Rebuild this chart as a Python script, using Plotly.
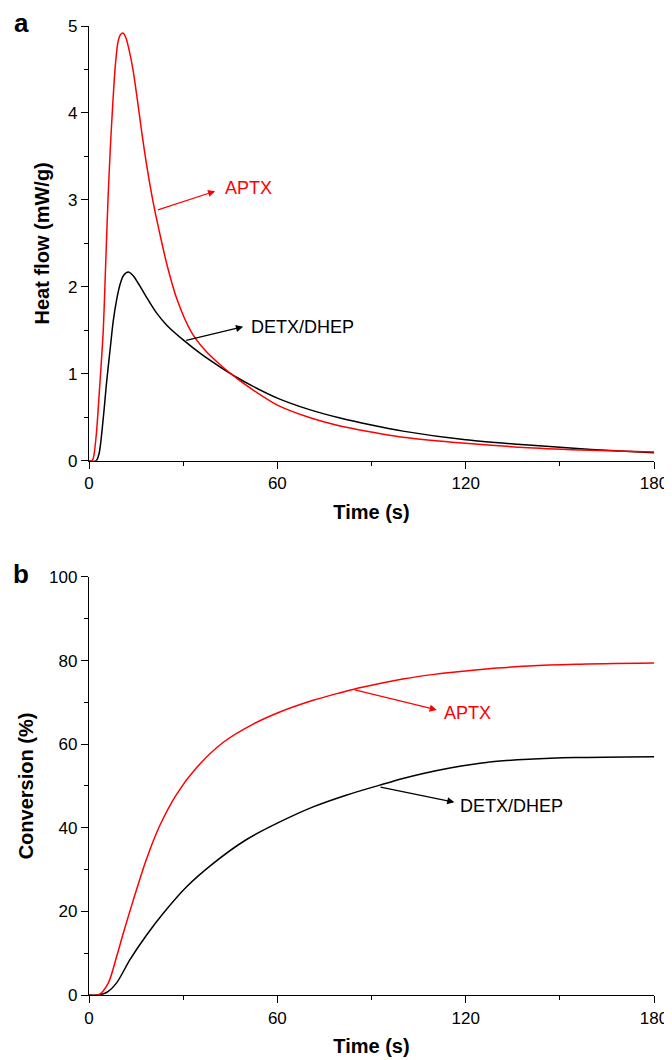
import plotly.graph_objects as go

# Heat flow (a) - time in s, heat flow in mW/g
t_hf_aptx = [0, 1.0, 1.5, 2.35, 3.4, 4.5, 5.3, 6.05, 6.8, 7.65, 8.4, 9.2, 10.0, 10.8, 11.8, 12.8,
             14.0, 15.3, 16.8, 18.5, 20.4, 22.5, 24.8, 28, 32.6, 37, 41.6, 47, 52, 60, 70, 80,
             90, 100, 120, 140, 160, 180]
hf_aptx = [0, 0, 0.05, 0.31, 0.85, 1.47, 2.25, 3.0, 3.6, 4.15, 4.55, 4.81, 4.9, 4.92, 4.86, 4.72,
           4.50, 4.18, 3.78, 3.37, 2.98, 2.62, 2.26, 1.86, 1.48, 1.27, 1.11, 0.95, 0.82, 0.64, 0.50, 0.40,
           0.33, 0.27, 0.20, 0.15, 0.12, 0.10]

t_hf_detx = [0, 2.3, 3.2, 4.6, 5.6, 6.7, 7.7, 8.8, 10.0, 11.0, 12.5, 14.0, 16.2, 18.5, 21.5, 25,
             30, 36, 41.7, 47, 52, 60, 70, 80, 90, 100, 120, 140, 160, 180]
hf_detx = [0, 0, 0.08, 0.51, 0.9, 1.27, 1.6, 1.85, 2.04, 2.13, 2.17, 2.13, 2.01, 1.87, 1.70, 1.55,
           1.39, 1.22, 1.08, 0.96, 0.86, 0.72, 0.59, 0.49, 0.41, 0.34, 0.24, 0.18, 0.13, 0.09]

# Conversion (b) - %
t_cv_aptx = [0, 3, 6.1, 8.8, 10.9, 14.1, 18.3, 22.6, 27.9, 34.3, 42.7, 52.3, 60.8, 71.4, 80,
             84.1, 92.6, 100, 110, 120, 130, 140, 155, 180]
cv_aptx = [0, 0, 2.8, 9.2, 14.7, 22.7, 32.5, 40.6, 48.0, 54.4, 60.4, 64.8, 67.7, 70.5, 72.3,
           73.1, 74.5, 75.6, 76.7, 77.5, 78.2, 78.7, 79.1, 79.4]

t_cv_detx = [0, 2.5, 5.6, 8.8, 13, 18.3, 23.6, 31.1, 39.6, 50.2, 60.8, 71.4, 81.9, 92.6, 100,
             106.5, 115, 122.4, 130, 140, 155, 180]
cv_detx = [0, 0, 0.6, 2.9, 8.4, 14.3, 19.5, 25.9, 31.5, 37.2, 41.4, 45.0, 47.8, 50.2, 51.8,
           53.0, 54.3, 55.2, 55.9, 56.4, 56.8, 57.0]

RED = "#ff0000"
FONT = "Liberation Sans, Arial, sans-serif"

fig = go.Figure()
fig.add_trace(go.Scatter(x=t_hf_detx, y=hf_detx, mode="lines", line=dict(color="black", width=1.5, shape="spline", smoothing=0.8),
                         xaxis="x", yaxis="y"))
fig.add_trace(go.Scatter(x=t_hf_aptx, y=hf_aptx, mode="lines", line=dict(color=RED, width=1.5, shape="spline", smoothing=0.8),
                         xaxis="x", yaxis="y"))
fig.add_trace(go.Scatter(x=t_cv_detx, y=cv_detx, mode="lines", line=dict(color="black", width=1.5, shape="spline", smoothing=0.8),
                         xaxis="x2", yaxis="y2"))
fig.add_trace(go.Scatter(x=t_cv_aptx, y=cv_aptx, mode="lines", line=dict(color=RED, width=1.5, shape="spline", smoothing=0.8),
                         xaxis="x2", yaxis="y2"))

axis_common = dict(showline=True, linecolor="black", linewidth=1.3, ticks="outside", ticklen=7,
                   tickwidth=1.2, tickcolor="black", showgrid=False, zeroline=False, automargin=False,
                   tickfont=dict(family=FONT, size=17, color="black"))

xax = dict(axis_common, range=[0, 180], tick0=0, dtick=60,
           minor=dict(dtick=30, ticklen=4, ticks="outside", tickcolor="black", tickwidth=1.2),
           title=dict(text="<b>Time (s)</b>", font=dict(family=FONT, size=20, color="black"), standoff=12))

# page has an 8px body margin, so the figure is a bit smaller than the window
fig.update_layout(
    width=664, height=1052,
    margin=dict(l=81, r=18, t=18, b=65, autoexpand=False),
    paper_bgcolor="white", plot_bgcolor="white",
    showlegend=False,
    xaxis=dict(xax, anchor="y", domain=[0, 1]),
    yaxis=dict(axis_common, anchor="x", domain=[0.5514, 1.0], range=[0, 5], tick0=0, dtick=1,
               minor=dict(dtick=0.5, ticklen=4, ticks="outside", tickcolor="black", tickwidth=1.2),
               title=dict(text="<b>Heat flow (mW/g)</b>", font=dict(family=FONT, size=20, color="black"), standoff=12)),
    xaxis2=dict(xax, anchor="y2", domain=[0, 1]),
    yaxis2=dict(axis_common, anchor="x2", domain=[0, 0.4314], range=[0, 100], tick0=0, dtick=20,
                minor=dict(dtick=10, ticklen=4, ticks="outside", tickcolor="black", tickwidth=1.2),
                title=dict(text="<b>Conversion (%)</b>", font=dict(family=FONT, size=20, color="black"), standoff=10)),
)

# arrows (tail on the curve, head next to the label) and labels
arrows = [
    ("x", "y", 21.5, 2.88, 40.2, 3.10, RED, "APTX", 42.6, 3.14),
    ("x", "y", 30.5, 1.38, 49.1, 1.54, "black", "DETX/DHEP", 51.1, 1.54),
    ("x2", "y2", 84.2, 73.1, 110.8, 68.2, RED, "APTX", 112.3, 67.5),
    ("x2", "y2", 92.4, 49.8, 116.4, 46.1, "black", "DETX/DHEP", 117.6, 45.2),
]
for xr, yr, x0, y0, x1, y1, col, txt, tx, ty in arrows:
    fig.add_annotation(x=x1, y=y1, ax=x0, ay=y0, xref=xr, yref=yr, axref=xr, ayref=yr,
                       text="", showarrow=True, arrowhead=2, arrowsize=1.1, arrowwidth=1.3,
                       arrowcolor=col)
    fig.add_annotation(x=tx, y=ty, xref=xr, yref=yr, text=txt, showarrow=False,
                       xanchor="left", yanchor="middle",
                       font=dict(family=FONT, size=18, color=col))

# panel letters
fig.add_annotation(x=-0.12, y=1.003, xref="paper", yref="paper", text="<b>a</b>", showarrow=False,
                   xanchor="center", yanchor="middle", font=dict(family=FONT, size=26, color="black"))
fig.add_annotation(x=-0.12, y=0.4345, xref="paper", yref="paper", text="<b>b</b>", showarrow=False,
                   xanchor="center", yanchor="middle", font=dict(family=FONT, size=26, color="black"))

fig.write_html("out.html")
